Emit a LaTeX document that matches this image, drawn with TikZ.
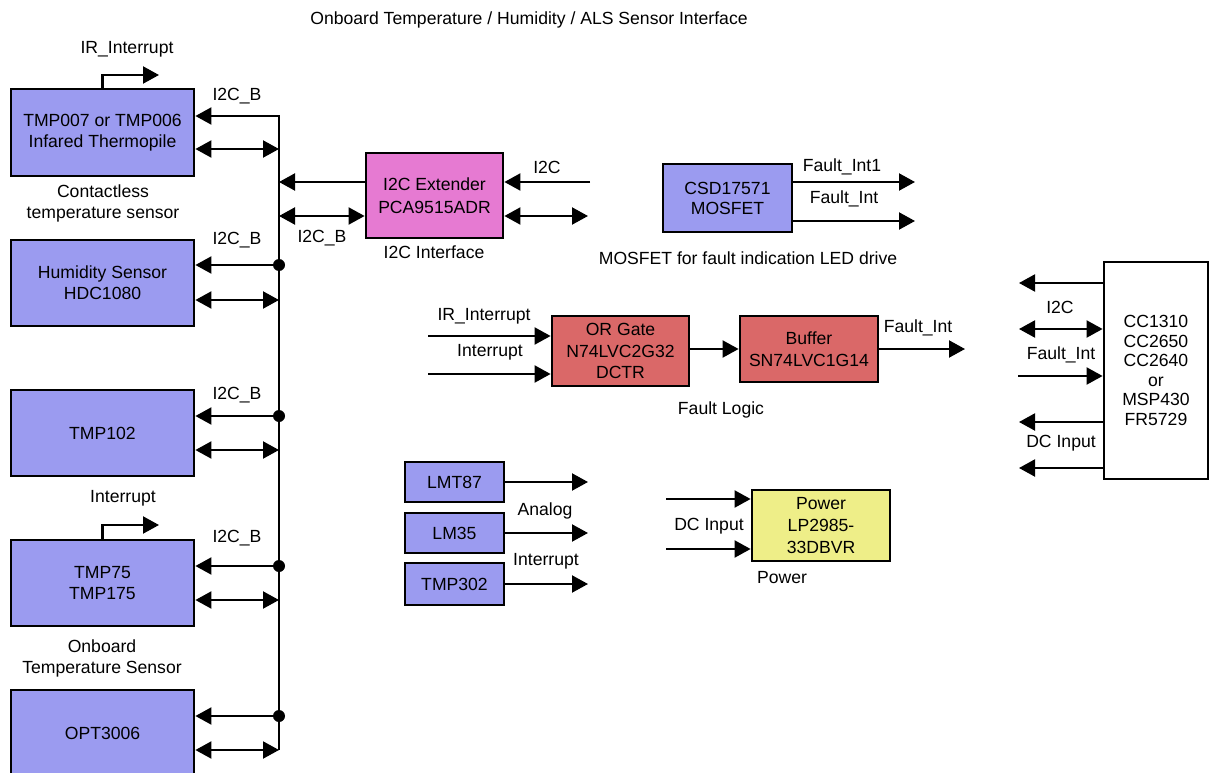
\documentclass[tikz,border=0pt]{standalone}
\usepackage{fontspec}
\setmainfont{Liberation Sans}
\usetikzlibrary{arrows.meta}
\definecolor{boxblue}{RGB}{155,155,240}
\definecolor{boxpink}{RGB}{230,122,210}
\definecolor{boxred}{RGB}{218,104,104}
\definecolor{boxyellow}{RGB}{238,238,136}
\begin{document}
\begin{tikzpicture}[x=1pt,y=-1pt,
  every node/.style={font=\fontsize{17.6}{21}\selectfont, inner sep=0pt},
  blk/.style={draw, line width=2.8pt, align=center, fill=boxblue},
  lbl/.style={align=center},
  arr/.style={line width=2.1pt, -{Triangle[length=16pt,width=17pt]}},
  darr/.style={line width=2.1pt, {Triangle[length=16pt,width=17pt]}-{Triangle[length=16pt,width=17pt]}},
  larr/.style={line width=2.1pt, {Triangle[length=16pt,width=17pt]}-},
  ln/.style={line width=2.1pt},
  busdot/.style={circle, fill, minimum size=12pt, inner sep=0pt}
]
\useasboundingbox (0,0) rectangle (1210,773);

% ---------- left sensor boxes ----------
\node[blk, minimum width=183pt, minimum height=87pt] (tmp007) at (102.5,132.5) {TMP007 or TMP006\\Infared Thermopile};
\node[blk, minimum width=183pt, minimum height=86pt] (hdc) at (102.5,283) {Humidity Sensor\\HDC1080};
\node[blk, minimum width=183pt, minimum height=86pt] (tmp102) at (102.5,433) {TMP102};
\node[blk, minimum width=183pt, minimum height=86pt] (tmp75) at (102.5,583) {TMP75\\TMP175};
\node[blk, minimum width=183pt, minimum height=86pt] (opt) at (102.5,733) {OPT3006};

% ---------- other boxes ----------
\node[blk, fill=boxpink, minimum width=137pt, minimum height=85pt, font=\fontsize{17.6}{23}\selectfont] (ext) at (434.5,195.5) {I2C Extender\\PCA9515ADR};
\node[blk, minimum width=129pt, minimum height=68pt, font=\fontsize{17.6}{20}\selectfont] (mosfet) at (727.5,198) {CSD17571\\MOSFET};
\node[blk, fill=boxred, minimum width=137pt, minimum height=70pt, font=\fontsize{17.6}{21.5}\selectfont] (orgate) at (620.5,351) {OR Gate\\N74LVC2G32\\DCTR};
\node[blk, fill=boxred, minimum width=138pt, minimum height=66pt, font=\fontsize{17.6}{21.5}\selectfont] (buffer) at (809,349) {Buffer\\SN74LVC1G14};
\node[blk, fill=boxyellow, minimum width=138pt, minimum height=71pt, font=\fontsize{17.6}{22}\selectfont] (power) at (821,525.5) {Power\\LP2985-\\33DBVR};
\node[blk, minimum width=99pt, minimum height=40pt] (lmt87) at (454.5,482) {LMT87};
\node[blk, minimum width=99pt, minimum height=40pt] (lm35) at (454.5,533) {LM35};
\node[blk, minimum width=99pt, minimum height=42pt] (tmp302) at (454.5,584) {TMP302};
\node[blk, fill=white, minimum width=104pt, minimum height=217pt, font=\fontsize{17.6}{19.5}\selectfont] (mcu) at (1156,370.5) {CC1310\\CC2650\\CC2640\\or\\MSP430\\FR5729};

% ---------- bus ----------
\coordinate (bt) at (279,116);
\coordinate (bb) at (279,750);
\draw[larr] (tmp007.east |- bt) -- (bt) -- (bb);
\coordinate (b1) at (279,149);
\coordinate (be1) at (279,182);
\coordinate (be2) at (279,216);
\coordinate (h1) at (279,265);
\coordinate (h2) at (279,300);
\coordinate (t1) at (279,416);
\coordinate (t2) at (279,450);
\coordinate (s1) at (279,566);
\coordinate (s2) at (279,600);
\coordinate (o1) at (279,716);
\draw[darr] (tmp007.east |- b1) -- (b1);
\draw[arr] (ext.west |- be1) -- (be1);
\draw[darr] (be2) -- (ext.west |- be2);
\draw[arr] (h1) -- (hdc.east |- h1);
\draw[darr] (hdc.east |- h2) -- (h2);
\draw[arr] (t1) -- (tmp102.east |- t1);
\draw[darr] (tmp102.east |- t2) -- (t2);
\draw[arr] (s1) -- (tmp75.east |- s1);
\draw[darr] (tmp75.east |- s2) -- (s2);
\draw[arr] (o1) -- (opt.east |- o1);
\draw[darr] (opt.east |- bb) -- (bb);
\node[busdot] (d1) at (h1) {};
\node[busdot] (d2) at (t1) {};
\node[busdot] (d3) at (s1) {};
\node[busdot] (d4) at (o1) {};

% ---------- interrupt outputs of sensors ----------
\coordinate (irtip) at (159,75);
\draw[arr] (tmp007.north) |- (irtip);
\coordinate (inttip) at (159,525);
\draw[arr] (tmp75.north) |- (inttip);

% ---------- extender right side ----------
\coordinate (i2cin) at (590,182);
\draw[arr] (i2cin) -- (ext.east |- i2cin);
\coordinate (i2cout) at (588,216);
\draw[darr] (ext.east |- i2cout) -- (i2cout);

% ---------- mosfet ----------
\coordinate (f1) at (915,182);
\coordinate (f2) at (915,221);
\draw[arr] (mosfet.east |- f1) -- (f1);
\draw[arr] (mosfet.east |- f2) -- (f2);

% ---------- fault logic ----------
\coordinate (or1) at (428,336);
\coordinate (or2) at (428,374);
\draw[arr] (or1) -- (orgate.west |- or1);
\draw[arr] (or2) -- (orgate.west |- or2);
\draw[arr] (orgate.east |- buffer.west) -- (buffer.west);
\coordinate (fo) at (965,349);
\draw[arr] (buffer.east) -- (fo);

% ---------- mcu ----------
\coordinate (m1) at (1019,283);
\coordinate (m2) at (1019,329);
\coordinate (m3) at (1018,376);
\coordinate (m4) at (1019,422);
\coordinate (m5) at (1019,468);
\draw[arr] (mcu.west |- m1) -- (m1);
\draw[darr] (m2) -- (mcu.west |- m2);
\draw[arr] (m3) -- (mcu.west |- m3);
\draw[arr] (mcu.west |- m4) -- (m4);
\draw[arr] (mcu.west |- m5) -- (m5);

% ---------- analog sensors ----------
\coordinate (a1) at (588,482);
\coordinate (a2) at (588,533);
\coordinate (a3) at (588,584);
\draw[arr] (lmt87.east) -- (a1);
\draw[arr] (lm35.east) -- (a2);
\draw[arr] (tmp302.east) -- (a3);

% ---------- power ----------
\coordinate (p1) at (666,499);
\coordinate (p2) at (666,549);
\draw[arr] (p1) -- (power.west |- p1);
\draw[arr] (p2) -- (power.west |- p2);

% ---------- labels ----------
\node[lbl] (title) at (529,20) {Onboard Temperature / Humidity / ALS Sensor Interface};
\node[lbl] (lir) at (127,49) {IR\_Interrupt};
\node[lbl] (lb1) at (237,96) {I2C\_B};
\node[lbl] (lb2) at (237,240) {I2C\_B};
\node[lbl] (lb3) at (237,395) {I2C\_B};
\node[lbl] (lb4) at (237,538) {I2C\_B};
\node[lbl] (lcont) at (103,203.5) {Contactless\\temperature sensor};
\node[lbl] (lint) at (123,498) {Interrupt};
\node[lbl] (lonb) at (102,658.5) {Onboard\\Temperature Sensor};
\node[lbl] (lbe) at (322,238) {I2C\_B};
\node[lbl] (lif) at (434,252) {I2C Interface};
\node[lbl] (li2c) at (547,167) {I2C};
\node[lbl] (lf1) at (842,167) {Fault\_Int1};
\node[lbl] (lf2) at (844,199) {Fault\_Int};
\node[lbl] (lmos) at (748,258) {MOSFET for fault indication LED drive};
\node[lbl] (lor1) at (484,316) {IR\_Interrupt};
\node[lbl] (lor2) at (490,352) {Interrupt};
\node[lbl] (lfo) at (918,328) {Fault\_Int};
\node[lbl] (lfl) at (721,410) {Fault Logic};
\node[lbl] (lm1) at (1060,307) {I2C};
\node[lbl] (lm2) at (1061,355) {Fault\_Int};
\node[lbl] (lm3) at (1061,443) {DC Input};
\node[lbl] (lan) at (545,511) {Analog};
\node[lbl] (lai) at (546,561) {Interrupt};
\node[lbl] (ldc) at (709,526) {DC Input};
\node[lbl] (lpw) at (782,578) {Power};
\end{tikzpicture}
\end{document}
